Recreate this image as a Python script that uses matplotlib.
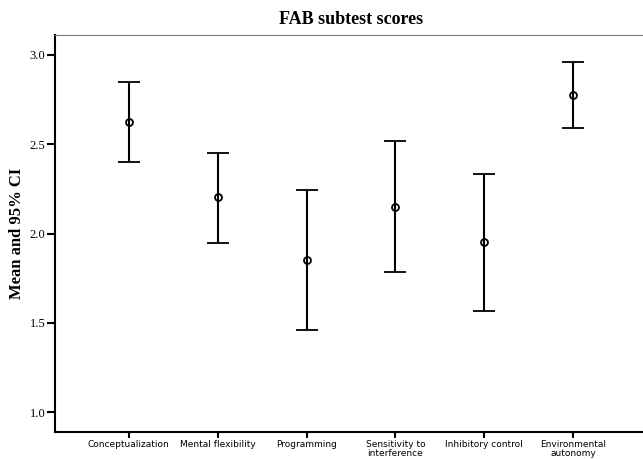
import numpy as np
import matplotlib.pyplot as plt

# Données
categories = ["Conceptualization", "Mental flexibility", "Programming",
              "Sensitivity to\ninterference", "Inhibitory control",
              "Environmental\nautonomy"]
moyennes = [2.626, 2.203, 1.852, 2.150, 1.951, 2.776]
ic_haut = [2.850, 2.453, 2.244, 2.518, 2.333, 2.959]
ic_bas = [2.402, 1.949, 1.459, 1.786, 1.568, 2.589]
yticks = [1.0, 1.5, 2.0, 2.5, 3.0]

x = np.arange(len(categories))
moy = np.array(moyennes)
err = np.vstack([moy - np.array(ic_bas), np.array(ic_haut) - moy])

fig = plt.figure(figsize=(6.43, 4.59), dpi=100)
ax = fig.add_axes([55/643, 1 - 432/459, (647 - 55)/643, (432 - 35)/459])

ax.errorbar(x, moy, yerr=err, fmt='o', color='black', mfc='none', mec='black',
            ms=5, mew=1.3, ecolor='black', elinewidth=1.5, capsize=8, capthick=1.6)

ax.set_xlim(-0.83, 5.83)
ax.set_ylim(0.888, 3.112)
ax.set_xticks(x)
ax.set_xticklabels(categories, fontsize=6.5, family='DejaVu Sans', linespacing=0.95)
ax.set_yticks(yticks)
ax.set_yticklabels([f"{v:.1f}" for v in yticks], fontsize=9, family='Liberation Serif')

ax.tick_params(axis='y', direction='out', length=6, width=1.5, pad=1)
ax.tick_params(axis='x', direction='out', length=4, width=1.5, pad=2)

ax.spines['left'].set_linewidth(1.5)
ax.spines['bottom'].set_linewidth(1.5)
ax.spines['top'].set_linewidth(0.8)
ax.spines['top'].set_color('#777777')
ax.spines['right'].set_visible(False)

ax.set_title("FAB subtest scores", fontsize=13, family='Liberation Serif',
             fontweight='bold', pad=8)
ax.set_ylabel("Mean and 95% CI", fontsize=12, family='Liberation Serif',
              fontweight='bold', labelpad=3)

fig.savefig("out.png", dpi=100)
